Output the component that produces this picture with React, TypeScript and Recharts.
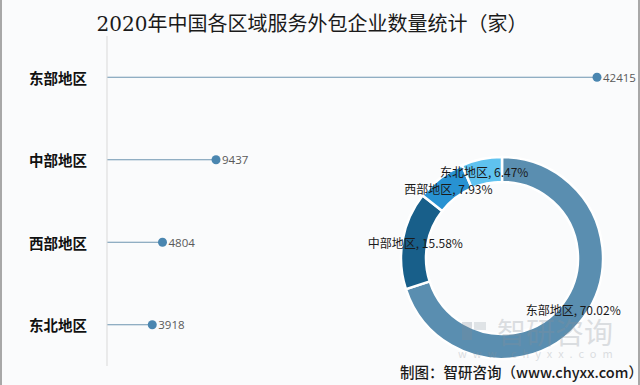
import { ComposedChart, Bar, XAxis, YAxis, PieChart, Pie, Cell } from "recharts";

const categories = ["东部地区", "中部地区", "西部地区", "东北地区"];
const counts = [42415, 9437, 4804, 3918];
const shares = [70.02, 15.58, 7.93, 6.47];
const pieColors = ["#5a8eb0", "#185f8a", "#2892d2", "#5fc2ef"];

const barData = categories.map((name, i) => ({ name, count: counts[i] }));
const pieData = categories.map((name, i) => ({ name, share: shares[i] }));

const RADIAN = Math.PI / 180;
const sansFont = "'Noto Sans CJK SC', 'Noto Sans', sans-serif";

// lollipop: thin stem + dot + value
function Stem(props: any) {
  const { x, y, width, height, payload } = props;
  const cy = y + height / 2;
  const ex = x + width;
  return (
    <g>
      <line x1={x} y1={cy} x2={ex} y2={cy} stroke="#6d95b1" strokeWidth={1.2} />
      <circle cx={ex} cy={cy} r={4.5} fill="#4a86b0" />
      <text x={ex + 6} y={cy} dominantBaseline="central" fontSize={11.5} fill="#595959" fontFamily="'Open Sans', sans-serif">
        {payload.count}
      </text>
    </g>
  );
}

function CatTick(props: any) {
  const { x, y, payload } = props;
  return (
    <text x={x - 12} y={y} textAnchor="end" dominantBaseline="central" fontSize={14.5} fontWeight="bold" fill="#111" fontFamily={sansFont}>
      {payload.value}
    </text>
  );
}

function PieLabel(props: any) {
  const { cx, cy, midAngle, index } = props;
  const r = 88;
  const x = cx + r * Math.cos(-midAngle * RADIAN);
  const y = cy + r * Math.sin(-midAngle * RADIAN);
  return (
    <text x={x} y={y} textAnchor="middle" dominantBaseline="central" fontSize={12} fill="#1a1a1a" fontFamily={sansFont}>
      {`${categories[index]}, ${shares[index].toFixed(2)}%`}
    </text>
  );
}

export default function App() {
  return (
    <div
      style={{
        position: "absolute",
        left: 0,
        top: 0,
        width: 640,
        height: 385,
        background: "#fafbfc",
        boxSizing: "border-box",
        borderLeft: "2px solid #a8a8a8",
        borderRight: "2px solid #a8a8a8",
        overflow: "hidden",
      }}
    >
      <div
        style={{
          position: "absolute",
          left: 0,
          top: 8,
          width: 620,
          textAlign: "center",
          fontSize: 20,
          fontFamily: "'DejaVu Serif', 'Noto Sans CJK SC', serif",
          color: "#1a1a1a",
        }}
      >
        2020年中国各区域服务外包企业数量统计（家）
      </div>
      <div style={{ position: "absolute", left: -2, top: 0 }}>
        <ComposedChart width={640} height={385} layout="vertical" data={barData} margin={{ top: 36, right: 43, bottom: 19, left: 0 }}>
          <XAxis type="number" domain={[0, 42415]} hide />
          <YAxis
            type="category"
            dataKey="name"
            width={107}
            axisLine={{ stroke: "#d9d9d9" }}
            tickLine={false}
            tick={<CatTick />}
          />
          <Bar dataKey="count" shape={<Stem />} isAnimationActive={false} />
        </ComposedChart>
      </div>
      <div style={{ position: "absolute", left: -2, top: 0 }}>
        <PieChart width={640} height={385}>
          <Pie
            data={pieData}
            dataKey="share"
            nameKey="name"
            cx={497}
            cy={253}
            innerRadius={76}
            outerRadius={101}
            startAngle={90}
            endAngle={-270}
            stroke="#ffffff"
            strokeWidth={2.5}
            label={<PieLabel />}
            labelLine={false}
            isAnimationActive={false}
          >
            {pieData.map((d, i) => (
              <Cell key={d.name} fill={pieColors[i]} />
            ))}
          </Pie>
        </PieChart>
      </div>
      <svg width={640} height={385} style={{ position: "absolute", left: -2, top: 0, pointerEvents: "none" }}>
        <g opacity={0.28} fill="#8a9199" fontFamily={sansFont}>
          <rect x={462} y={322} width={10} height={18} fill="#7f8c99" />
          <rect x={474} y={322} width={12} height={8} fill="#9aa6b1" />
          <text x={497} y={344} fontSize={29}>智研咨询</text>
          <text x={458} y={358} fontSize={11} letterSpacing={6}>www.chyxx.com</text>
        </g>
        <text x={400} y={378} fontSize={14.5} fontWeight={500} fill="#1a1a1a" fontFamily={sansFont}>
          制图：智研咨询（www.chyxx.com）
        </text>
      </svg>
    </div>
  );
}
